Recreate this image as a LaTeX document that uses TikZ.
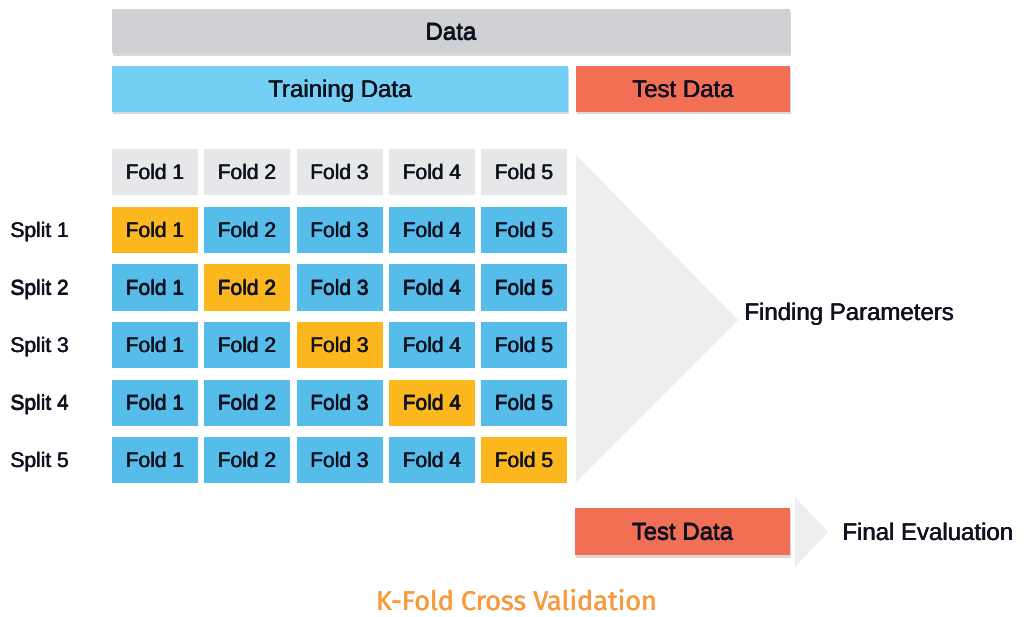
\documentclass[tikz,border=0pt]{standalone}
\usepackage{fontspec}
\setmainfont{Liberation Sans}
\newfontfamily\titlefont{Fira Sans}
\usetikzlibrary{shadows}
\definecolor{ink}{HTML}{10111E}
\definecolor{datagray}{HTML}{CFD1D4}
\definecolor{trainblue}{HTML}{74CFF4}
\definecolor{testred}{HTML}{F06F55}
\definecolor{headgray}{HTML}{E6E7E9}
\definecolor{foldblue}{HTML}{56BDEA}
\definecolor{foldgold}{HTML}{FDB71E}
\definecolor{arrowgray}{HTML}{EDEEEF}
\definecolor{titleorange}{HTML}{F69A3B}
% medium weight: the text set three times with small offsets
\newcommand\heavy[2][0.6pt]{\rlap{#2}\rlap{\hspace{0.5\dimexpr#1\relax}\raisebox{0.3pt}{#2}}\hspace{#1}#2}
\tikzset{
  bar/.style={rectangle, inner sep=0pt, text=ink, text height=17.2pt, text depth=0pt,
    font=\fontsize{24}{28}\selectfont,
    drop shadow={shadow xshift=1pt, shadow yshift=-2.5pt, opacity=0.25, fill=black!60}},
  cell/.style={rectangle, inner sep=0pt, minimum width=86pt, minimum height=46pt,
    text height=15pt, text depth=0pt, text=ink, font=\fontsize{21}{25}\selectfont},
  headcell/.style={cell, fill=headgray},
  traincell/.style={cell, fill=foldblue},
  validcell/.style={cell, fill=foldgold},
  splitlabel/.style={anchor=west, inner sep=0pt, text height=15pt, text depth=0pt,
    text=ink, font=\fontsize{21}{25}\selectfont},
  sidelabel/.style={anchor=west, inner sep=0pt, text height=17.2pt, text depth=0pt,
    text=ink, font=\fontsize{24}{28}\selectfont},
}
\begin{document}
\begin{tikzpicture}[x=1pt, y=-1pt]
  \useasboundingbox (0,0) rectangle (1032,617);

  % overall data split
  \node[bar, fill=datagray, minimum width=678pt, minimum height=44pt] (data) at (451,31.5) {\heavy{Data}};
  \node[bar, fill=trainblue, minimum width=456pt, minimum height=46pt] (train) at (340,89) {\heavy{Training Data}};
  \node[bar, fill=testred, minimum width=214pt, minimum height=46pt] (test) at (683,89) {\heavy{Test Data}};

  % funnel towards parameter search
  \fill[arrowgray] (576,155) -- (738,320) -- (576,482) -- cycle;

  % fold header row
  \foreach \j/\x in {1/155, 2/247, 3/339.5, 4/432, 5/524}
    \node[headcell] (h\j) at (\x,172.5) {\heavy{Fold \j}};

  % cross-validation splits
  \foreach \i/\y in {1/230, 2/287.5, 3/345, 4/402.5, 5/460} {
    \node[splitlabel] (sp\i) at (10,\y) {\heavy{Split \i}};
    \foreach \j/\x in {1/155, 2/247, 3/339.5, 4/432, 5/524} {
      \ifnum\i=\j
        \node[validcell] (s\i f\j) at (\x,\y) {\heavy{Fold \j}};
      \else
        \node[traincell] (s\i f\j) at (\x,\y) {\heavy{Fold \j}};
      \fi
    }
  }

  \node[sidelabel] (params) at (744,312) {\heavy{Finding Parameters}};

  % final evaluation on held-out data
  \node[bar, fill=testred, minimum width=215pt, minimum height=47pt] (final test) at (682.5,531.5) {\heavy{Test Data}};
  \fill[arrowgray] (795,497) -- (828,532) -- (795,567) -- cycle;
  \node[sidelabel] (eval) at (842,532) {\heavy{Final Evaluation}};

  \node[text=titleorange, font=\fontsize{27}{31}\selectfont\titlefont, inner sep=0pt,
    text height=18.6pt, text depth=0pt] (title) at (516.5,601) {\heavy[0.5pt]{K-Fold Cross Validation}};
\end{tikzpicture}
\end{document}
